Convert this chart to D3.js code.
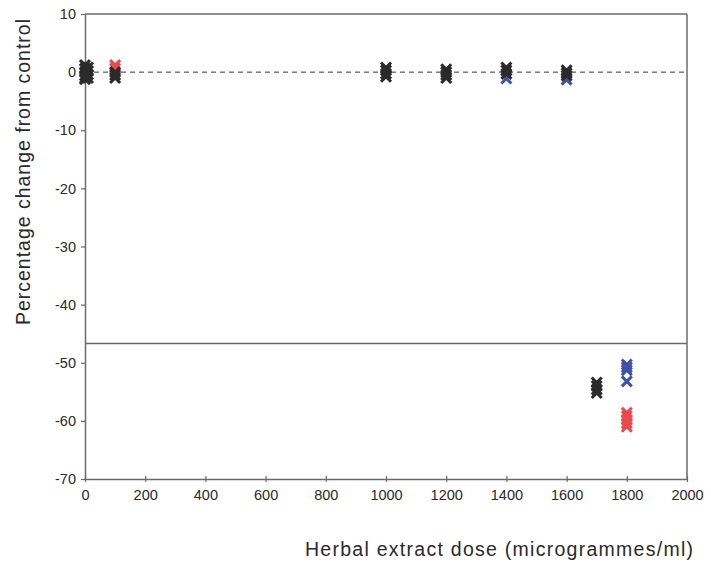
<!DOCTYPE html>
<html><head><meta charset="utf-8">
<script src="https://cdn.jsdelivr.net/npm/d3@7"></script>
<style>body{margin:0;background:#fff;font-family:Arial,"Liberation Sans",sans-serif;}</style>
</head><body><svg id="c" width="711" height="568"></svg>
<script>
// Data (doses in micrograms/ml, replicate percentage changes)
const xTicks = [0,200,400,600,800,1000,1200,1400,1600,1800,2000];
const yTicks = [10,0,-10,-20,-30,-40,-50,-60,-70];
const blackDoses = [0,10,100,1000,1200,1400,1600,1700];
const blackValues = [
  [1.2,0.6,0,-0.6,-1.2],
  [0.8,0.2,-0.4,-1.0],
  [0.0,-0.5,-1.0],
  [0.8,0.3,-0.3,-0.8],
  [0.5,0,-0.5,-1.0],
  [0.8,0.3,-0.3],
  [0.3,-0.2,-0.6],
  [-53.4,-54.0,-54.6,-55.2]
];
const blueDoses = [0,1400,1600,1800];
const blueValues = [[-1.0],[-1.1],[-1.3],[-50.3,-50.8,-51.3,-53.2]];
const redDoses = [0,100,1800];
const redValues = [[0.5],[1.2,0.6],[-58.6,-59.2,-59.8,-60.4,-61.0]];
const refLine = -46.7;

const svg = d3.select("#c");
const x = d3.scaleLinear().domain([0,2000]).range([85,687]);
const y = d3.scaleLinear().domain([-70,10]).range([479,14]);
const axisCol = "#6a6a70";
const font = "Arial, 'Liberation Sans', sans-serif";

// frame top/right
svg.append("line").attr("x1",85).attr("x2",687).attr("y1",14).attr("y2",14).attr("stroke",axisCol).attr("stroke-width",1.5);
svg.append("line").attr("x1",687).attr("x2",687).attr("y1",14).attr("y2",479).attr("stroke",axisCol).attr("stroke-width",1.5);

// zero dashed line
svg.append("line").attr("x1",x(0)).attr("x2",x(2000)).attr("y1",y(0)).attr("y2",y(0))
  .attr("stroke","#333").attr("stroke-width",1).attr("stroke-dasharray","5,4");
// horizontal solid line
svg.append("line").attr("x1",x(0)).attr("x2",x(2000)).attr("y1",y(refLine)).attr("y2",y(refLine))
  .attr("stroke",axisCol).attr("stroke-width",1.5);

// axes
const fmt = v => String(v);
const xa = svg.append("g").attr("transform",`translate(0,${y(-70)})`)
  .call(d3.axisBottom(x).tickValues(xTicks).tickFormat(fmt).tickSize(4).tickSizeOuter(0).tickPadding(7));
const ya = svg.append("g").attr("transform",`translate(${x(0)},0)`)
  .call(d3.axisLeft(y).tickValues(yTicks).tickFormat(fmt).tickSize(4).tickSizeOuter(0).tickPadding(5));
[xa,ya].forEach(g=>{
  g.select(".domain").attr("stroke",axisCol).attr("stroke-width",1.5);
  g.selectAll(".tick line").attr("stroke",axisCol).attr("stroke-width",1.2);
  g.selectAll("text").attr("font-family",font).attr("font-size",14.5).attr("fill","#2a2a2a");
});
xa.selectAll(".tick line").attr("y1",-3).attr("y2",3);

// markers
function drawSeries(doses, values, color){
  const pts = [];
  doses.forEach((d,i)=>values[i].forEach(v=>pts.push([d,v])));
  const s = 5;
  svg.append("g").selectAll("path").data(pts).join("path")
    .attr("d",p=>{const cx=x(p[0]), cy=y(p[1]);
      return `M${cx-s},${cy-s}L${cx+s},${cy+s}M${cx+s},${cy-s}L${cx-s},${cy+s}`;})
    .attr("stroke",color).attr("stroke-width",3).attr("fill","none");
}
drawSeries(redDoses, redValues, "#e84a50");
drawSeries(blueDoses, blueValues, "#3d52a8");
drawSeries(blackDoses, blackValues, "#2b2b2b");

// axis titles
svg.append("text").attr("transform",`translate(30,172) rotate(-90)`)
  .attr("text-anchor","middle").attr("font-family",font).attr("font-size",19.5).attr("fill","#2a2a2a")
  .attr("textLength",306).attr("lengthAdjust","spacing")
  .text("Percentage change from control");
svg.append("text").attr("x",499).attr("y",556).attr("text-anchor","middle")
  .attr("font-family",font).attr("font-size",19.5).attr("fill","#2a2a2a")
  .attr("textLength",388).attr("lengthAdjust","spacing")
  .text("Herbal extract dose (microgrammes/ml)");
</script></body></html>
